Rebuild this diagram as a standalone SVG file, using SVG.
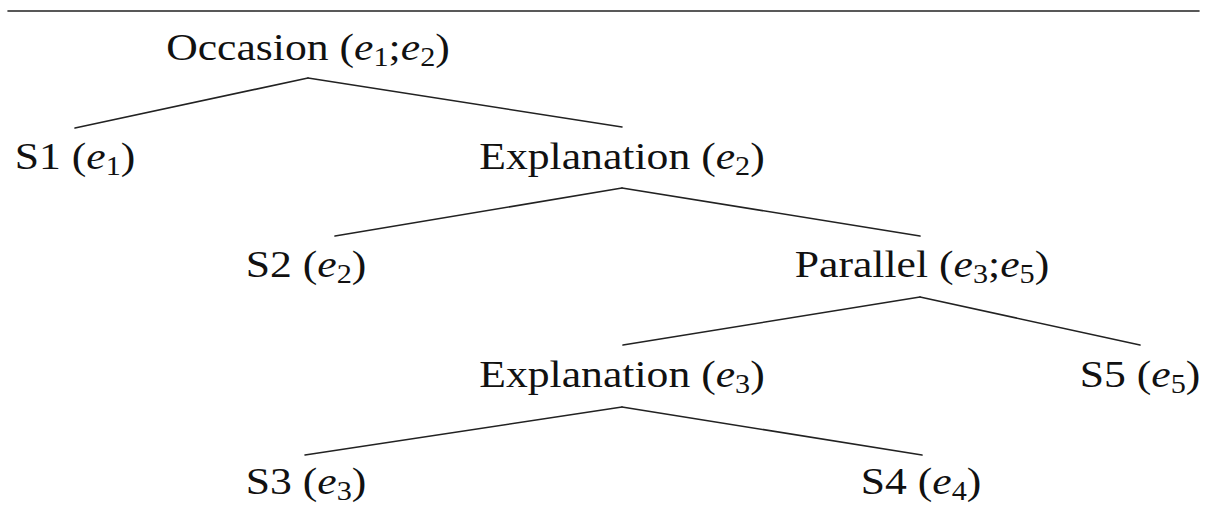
<svg xmlns="http://www.w3.org/2000/svg" width="1207" height="522" viewBox="0 0 1207 522">
<style>
text{font-family:'Liberation Serif','Times New Roman',Times,serif;font-size:39px;fill:#111;text-anchor:middle}
.i{font-style:italic}
.s{font-size:27px}
line{stroke:#222;stroke-width:1.6;stroke-linecap:round}
</style>
<rect width="1207" height="522" fill="#fff"/>
<line x1="8" y1="11" x2="1199" y2="11" stroke-width="2"/>
<g id="connectors">
<line x1="308" y1="78" x2="75" y2="128"/>
<line x1="308" y1="78" x2="622" y2="127"/>
<line x1="622" y1="188" x2="335" y2="236"/>
<line x1="622" y1="188" x2="920" y2="236"/>
<line x1="920" y1="297" x2="623" y2="345"/>
<line x1="920" y1="297" x2="1140" y2="345"/>
<line x1="622" y1="407" x2="305" y2="455"/>
<line x1="622" y1="407" x2="922" y2="455"/>
</g>
<g id="occasion" transform="translate(308 60) scale(1.12 1)"><text>Occasion (<tspan class="i">e</tspan><tspan class="s" dy="6">1</tspan><tspan dy="-6">;</tspan><tspan class="i">e</tspan><tspan class="s" dy="6">2</tspan><tspan dy="-6">)</tspan></text></g>
<g id="s1" transform="translate(75 169) scale(1.12 1)"><text>S1 (<tspan class="i">e</tspan><tspan class="s" dy="6">1</tspan><tspan dy="-6">)</tspan></text></g>
<g id="explanation1" transform="translate(622 169) scale(1.12 1)"><text>Explanation (<tspan class="i">e</tspan><tspan class="s" dy="6">2</tspan><tspan dy="-6">)</tspan></text></g>
<g id="s2" transform="translate(306 277) scale(1.12 1)"><text>S2 (<tspan class="i">e</tspan><tspan class="s" dy="6">2</tspan><tspan dy="-6">)</tspan></text></g>
<g id="parallel" transform="translate(922 277) scale(1.12 1)"><text>Parallel (<tspan class="i">e</tspan><tspan class="s" dy="6">3</tspan><tspan dy="-6">;</tspan><tspan class="i">e</tspan><tspan class="s" dy="6">5</tspan><tspan dy="-6">)</tspan></text></g>
<g id="explanation2" transform="translate(622 387) scale(1.12 1)"><text>Explanation (<tspan class="i">e</tspan><tspan class="s" dy="6">3</tspan><tspan dy="-6">)</tspan></text></g>
<g id="s5" transform="translate(1140 387) scale(1.12 1)"><text>S5 (<tspan class="i">e</tspan><tspan class="s" dy="6">5</tspan><tspan dy="-6">)</tspan></text></g>
<g id="s3" transform="translate(306 494) scale(1.12 1)"><text>S3 (<tspan class="i">e</tspan><tspan class="s" dy="6">3</tspan><tspan dy="-6">)</tspan></text></g>
<g id="s4" transform="translate(921 494) scale(1.12 1)"><text>S4 (<tspan class="i">e</tspan><tspan class="s" dy="6">4</tspan><tspan dy="-6">)</tspan></text></g>
</svg>
